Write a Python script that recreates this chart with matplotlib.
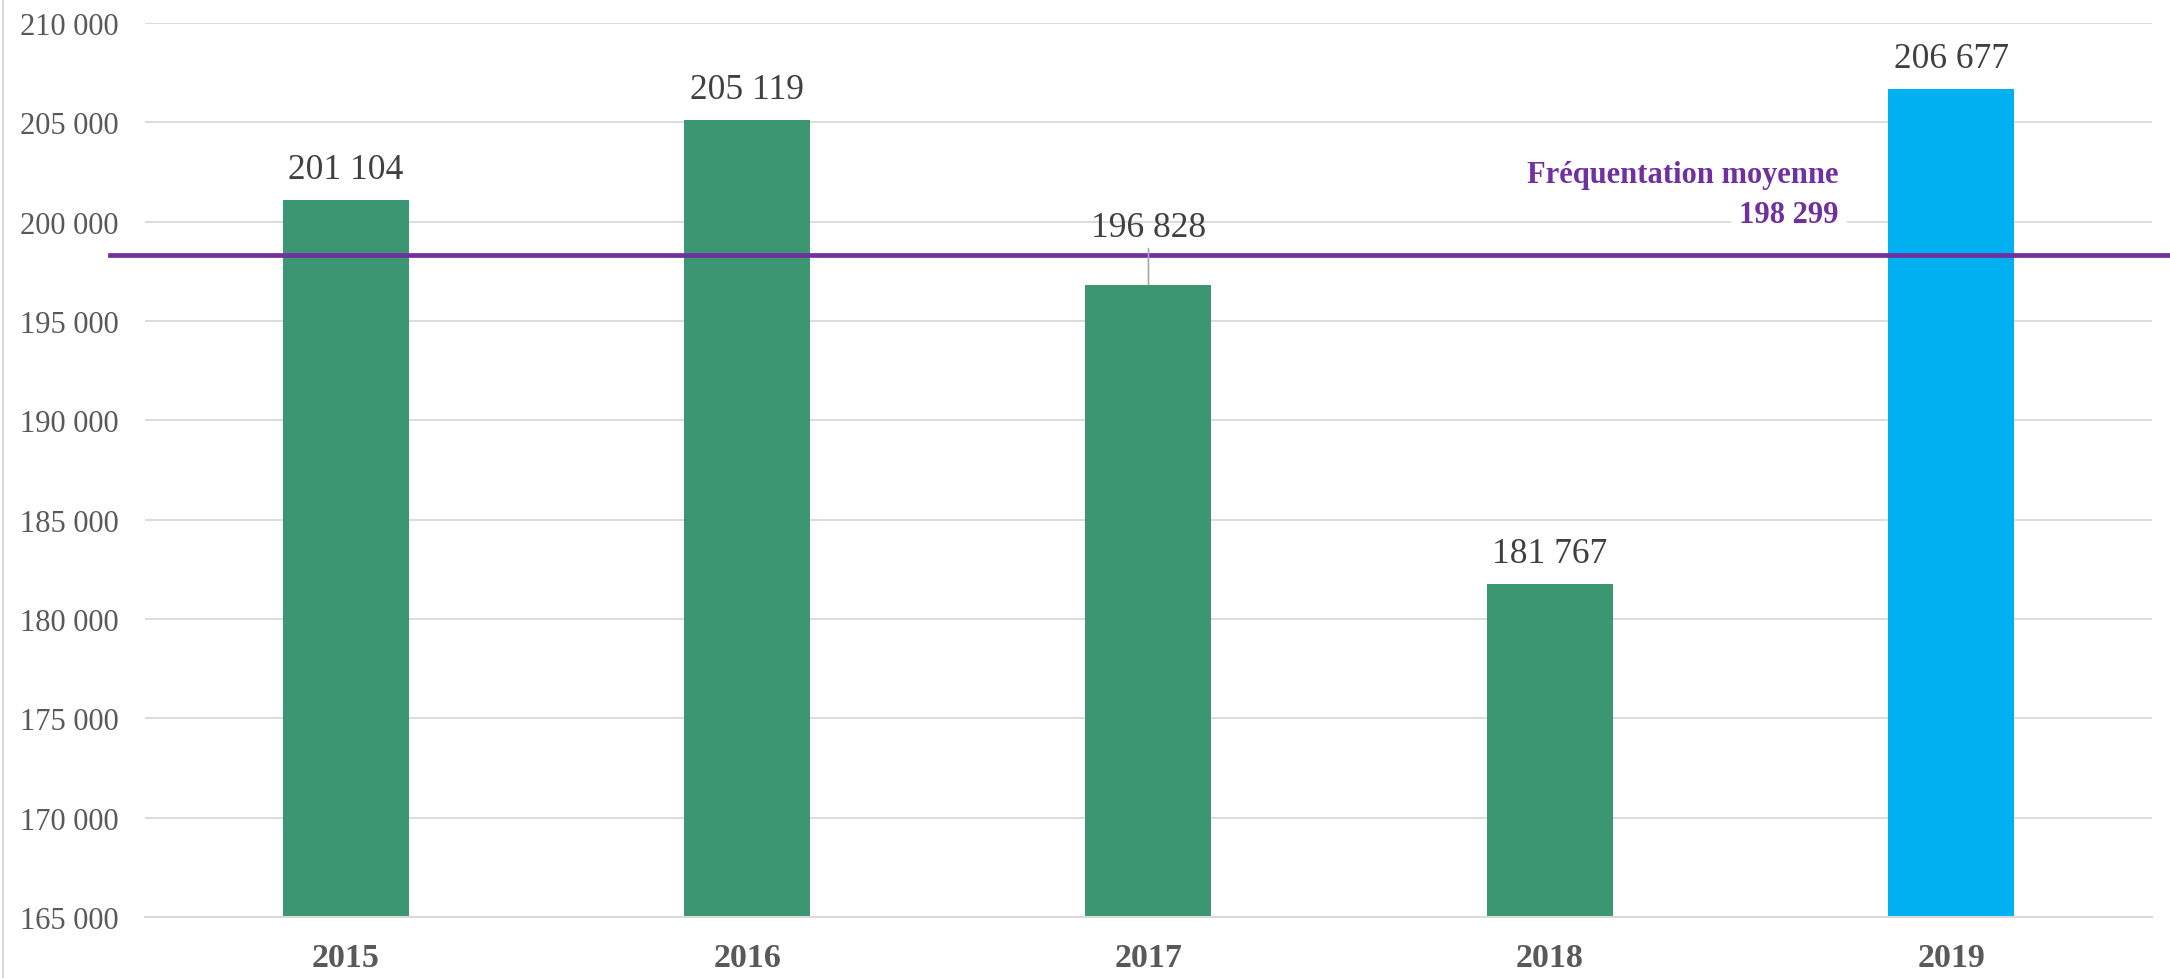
import matplotlib.pyplot as plt
from matplotlib.ticker import FuncFormatter, MultipleLocator
from matplotlib.lines import Line2D
import matplotlib.transforms as mtransforms

# Data
years = ['2015', '2016', '2017', '2018', '2019']
visits = [201104, 205119, 196828, 181767, 206677]
average = 198299
bar_colors = ['#3B9671', '#3B9671', '#3B9671', '#3B9671', '#00B0F0']

plt.rcParams['font.family'] = ['Liberation Serif', 'DejaVu Serif']


def fmt(v, pos=None):
    return f'{int(v):,}'.replace(',', ' ')


fig = plt.figure(figsize=(21.7, 9.79), dpi=100)
ax = fig.add_axes([0.0668, 0.0623, 0.9249, 0.9132])

x = range(len(years))
ax.bar(x, visits, width=0.314, color=bar_colors, zorder=2)

ax.set_ylim(165000, 210000)
ax.set_xlim(-0.5, len(years) - 0.5)
ax.yaxis.set_major_locator(MultipleLocator(5000))
ax.yaxis.set_major_formatter(FuncFormatter(fmt))
ax.grid(axis='y', color='#D9D9D9', linewidth=1.3, zorder=0)
ax.set_axisbelow(True)

for s in ['top', 'right', 'left']:
    ax.spines[s].set_visible(False)
ax.spines['bottom'].set_color('#D9D9D9')
ax.spines['bottom'].set_linewidth(1.5)

ax.tick_params(axis='y', length=0, pad=19, labelsize=22, labelcolor='#595959')
ax.tick_params(axis='x', length=0, pad=18, labelsize=24.5, labelcolor='#595959')
ax.set_xticks(list(x))
ax.set_xticklabels(years, fontweight='bold')

# value labels
for i, v in enumerate(visits):
    if years[i] == '2017':
        ax.annotate(fmt(v), xy=(i, v), xytext=(0, 29), textcoords='offset points',
                    ha='center', va='bottom', fontsize=25.5, color='#404040',
                    arrowprops=dict(arrowstyle='-', color='#A6A6A6', lw=1.2,
                                    shrinkA=1, shrinkB=0), zorder=4)
    else:
        ax.annotate(fmt(v), xy=(i, v), xytext=(0, 10), textcoords='offset points',
                    ha='center', va='bottom', fontsize=25.5, color='#404040')

# average line, running past the plot area on both sides
trans = mtransforms.blended_transform_factory(fig.transFigure, ax.transData)
ax.add_line(Line2D([0.0507, 1.0], [average, average], transform=trans,
                   color='#7030A0', linewidth=3.4, clip_on=False, zorder=3))
ax.text(3.72, 202349, 'Fréquentation moyenne', ha='right', va='center',
        fontsize=22, fontweight='bold', color='#7030A0', zorder=3)
ax.text(3.72, 200336, fmt(average), ha='right', va='center',
        fontsize=22, fontweight='bold', color='#7030A0',
        bbox=dict(facecolor='white', edgecolor='none', pad=6), zorder=3)

# thin border on the left edge
fig.add_artist(Line2D([0.0015, 0.0015], [0, 1], transform=fig.transFigure,
                      color='#D9D9D9', linewidth=1.5))

plt.savefig('out.png', dpi=100)
